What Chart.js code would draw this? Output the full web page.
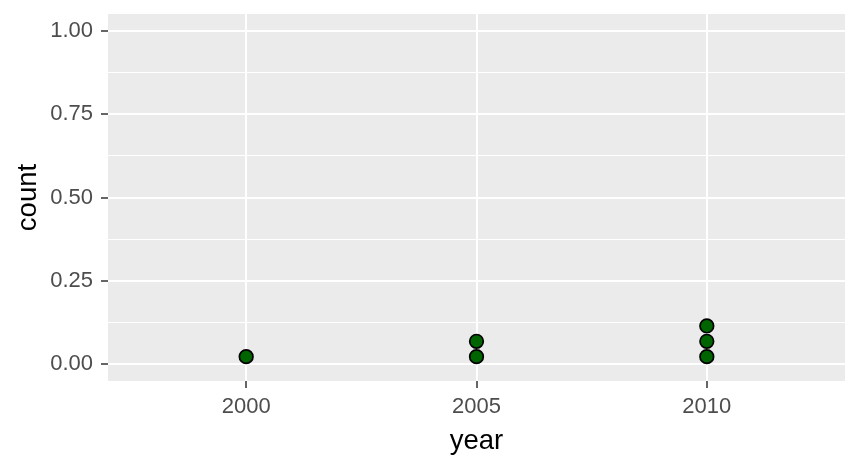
<!DOCTYPE html>
<html>
<head>
<meta charset="utf-8">
<script src="https://cdn.jsdelivr.net/npm/chart.js@4"></script>
<style>
  html, body { margin: 0; padding: 0; background: #fff; }
  #wrap { width: 860px; height: 468px; }
</style>
</head>
<body>
<div id="wrap"><canvas id="dotChart" width="860" height="468"></canvas></div>
<script>
// observations by year (dot plot, stacked)
const years = [2000, 2005, 2010];
const counts = [1, 2, 3];
const dotStep = 0.046; // height of one stacked dot in count units

const yTicks = [0, 0.25, 0.5, 0.75, 1];
const yMinor = [0.125, 0.375, 0.625, 0.875];
const xTicks = [2000, 2005, 2010];

const points = [];
years.forEach((yr, i) => {
  for (let k = 0; k < counts[i]; k++) {
    points.push({ x: yr, y: (k + 0.5) * dotStep });
  }
});

const panelBg = {
  id: 'panelBg',
  beforeDraw(chart) {
    const { ctx, chartArea: a } = chart;
    ctx.save();
    ctx.fillStyle = '#EBEBEB';
    ctx.fillRect(a.left, a.top, a.right - a.left, a.bottom - a.top);
    ctx.restore();
  }
};

const isMajorY = v => yTicks.some(t => Math.abs(t - v) < 1e-9);
const font = 'Liberation Sans, Arial';

new Chart(document.getElementById('dotChart').getContext('2d'), {
  type: 'scatter',
  data: {
    datasets: [{
      data: points,
      backgroundColor: '#006400',
      borderColor: '#000000',
      borderWidth: 1.7,
      pointRadius: 6.8,
      pointHoverRadius: 6.8
    }]
  },
  plugins: [panelBg],
  options: {
    responsive: false,
    animation: false,
    layout: { padding: { top: 14, right: 15, left: 0, bottom: 0 } },
    plugins: { legend: { display: false }, tooltip: { enabled: false } },
    scales: {
      x: {
        type: 'linear',
        min: 1997,
        max: 2013,
        afterBuildTicks: s => { s.ticks = xTicks.map(v => ({ value: v })); },
        afterFit: s => { s.height = 87; s.paddingLeft = 0; s.paddingRight = 0; },
        border: { display: false },
        grid: {
          color: '#FFFFFF',
          lineWidth: 2,
          tickColor: '#333333',
          tickLength: 7,
          tickWidth: 1.5
        },
        ticks: {
          color: '#4D4D4D',
          font: { family: font, size: 22 },
          padding: 6,
          maxRotation: 0,
          callback: v => String(v)
        },
        title: {
          display: true,
          text: 'year',
          color: '#000000',
          font: { family: font, size: 27.5 },
          padding: { top: 0, bottom: 10 }
        }
      },
      y: {
        type: 'linear',
        min: -0.05,
        max: 1.05,
        afterBuildTicks: s => {
          s.ticks = yTicks.concat(yMinor).sort((a, b) => a - b).map(v => ({ value: v }));
        },
        afterFit: s => { s.width = 108; s.paddingTop = 0; s.paddingBottom = 0; },
        border: { display: false },
        grid: {
          color: '#FFFFFF',
          lineWidth: c => (c.tick && isMajorY(c.tick.value) ? 2 : 1),
          tickColor: c => (c.tick && isMajorY(c.tick.value) ? '#333333' : 'rgba(0,0,0,0)'),
          tickLength: 7,
          tickWidth: 1.5
        },
        ticks: {
          color: '#4D4D4D',
          font: { family: font, size: 22 },
          padding: 8,
          callback: v => (isMajorY(v) ? v.toFixed(2) : '')
        },
        title: {
          display: true,
          text: 'count',
          color: '#000000',
          font: { family: font, size: 27.5 },
          padding: { top: 12, bottom: 0 }
        }
      }
    }
  }
});
</script>
</body>
</html>
